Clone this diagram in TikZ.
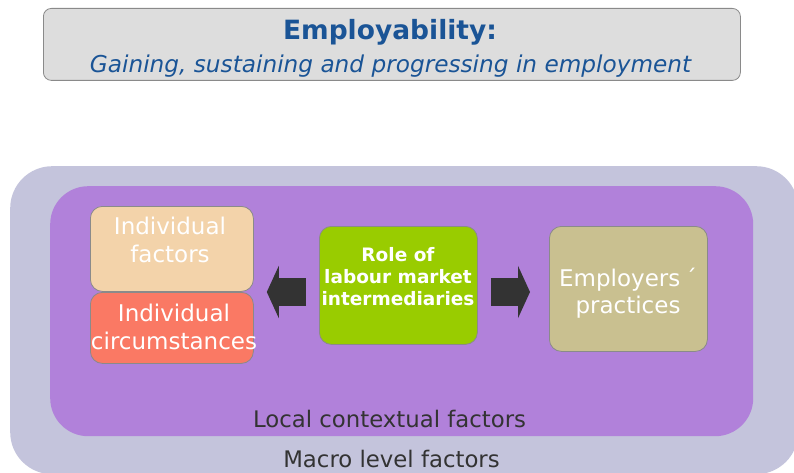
\documentclass[tikz,border=0pt]{standalone}
\usepackage{fontspec}
\setmainfont{DejaVu Sans}[BoldFont={DejaVu Sans Bold},ItalicFont={DejaVu Sans Oblique}]
\usetikzlibrary{arrows.meta}

\definecolor{titleblue}{RGB}{26,84,150}
\definecolor{titlefill}{RGB}{221,221,221}
\definecolor{boxline}{RGB}{138,138,138}
\definecolor{macroclr}{RGB}{196,196,220}
\definecolor{localclr}{RGB}{177,129,218}
\definecolor{peach}{RGB}{243,211,170}
\definecolor{salmon}{RGB}{250,121,100}
\definecolor{roleclr}{RGB}{153,204,0}
\definecolor{khaki}{RGB}{201,192,144}
\definecolor{arrowgray}{RGB}{51,51,51}
\definecolor{labelgray}{RGB}{51,51,51}

\begin{document}
\begin{tikzpicture}[x=1pt,y=-1pt,
    box/.style={draw=boxline, line width=0.8pt, rounded corners=12pt, inner sep=0pt, anchor=north west},
    boxtext/.style={text=white, align=center, font=\fontsize{23}{27.5}\selectfont},
    fatarrow/.style={draw=arrowgray, line width=28pt, -{Triangle[length=12pt,width=52pt]}, shorten <=13pt},
    lbl/.style={text=labelgray, anchor=base, font=\fontsize{22.8}{26}\selectfont}]
  \useasboundingbox (0,0) rectangle (794,473);
  \clip (0,0) rectangle (794,473);

  % heading
  \node[box, fill=titlefill, rounded corners=8pt, minimum width=697pt, minimum height=72pt] (title) at (43,8) {};
  \node[anchor=base, text=titleblue, font=\bfseries\fontsize{26.5}{30}\selectfont] (head) at (390,40) {Employability:};
  \node[anchor=base, text=titleblue, font=\itshape\fontsize{23.2}{27}\selectfont] (sub) at (390.5,73) {Gaining, sustaining and progressing in employment};

  % levels
  \node[fill=macroclr, rounded corners=42pt, inner sep=0pt, anchor=north west, minimum width=788pt, minimum height=308pt] (macro) at (10,166) {};
  \node[fill=localclr, rounded corners=38pt, inner sep=0pt, anchor=north west, minimum width=703pt, minimum height=250pt] (local) at (50,186) {};

  % boxes
  \node[box, fill=peach, minimum width=163pt, minimum height=85pt] (indfac) at (90,206) {};
  \node[box, fill=salmon, minimum width=163pt, minimum height=71pt] (indcirc) at (90,292) {};
  \node[box, fill=roleclr, minimum width=158pt, minimum height=118pt] (role) at (319,226) {};
  \node[box, fill=khaki, minimum width=158pt, minimum height=125pt] (employ) at (549,226) {};

  \node[boxtext] (indfactxt) at (170,240) {Individual\\factors};
  \node[boxtext] (indcirctxt) at (174,327) {Individual\\circumstances};
  \node[boxtext, font=\bfseries\fontsize{18.5}{22}\selectfont] (roletxt) at (398,277) {Role of\\labour market\\intermediaries};
  \node[boxtext] (employtxt) at (628,293) {Employers\hspace{5pt}´\\practices};

  % arrows
  \draw[fatarrow, shorten >=13pt] (role.west |- indcirc.north) -- (indcirc.north east);
  \draw[fatarrow, shorten >=19pt] (role.east |- indcirc.north) -- (employ.west |- indcirc.north);

  \node[lbl] (locallbl) at (389.5,427) {Local contextual factors};
  \node[lbl] (macrolbl) at (391.5,467) {Macro level factors};
\end{tikzpicture}
\end{document}
